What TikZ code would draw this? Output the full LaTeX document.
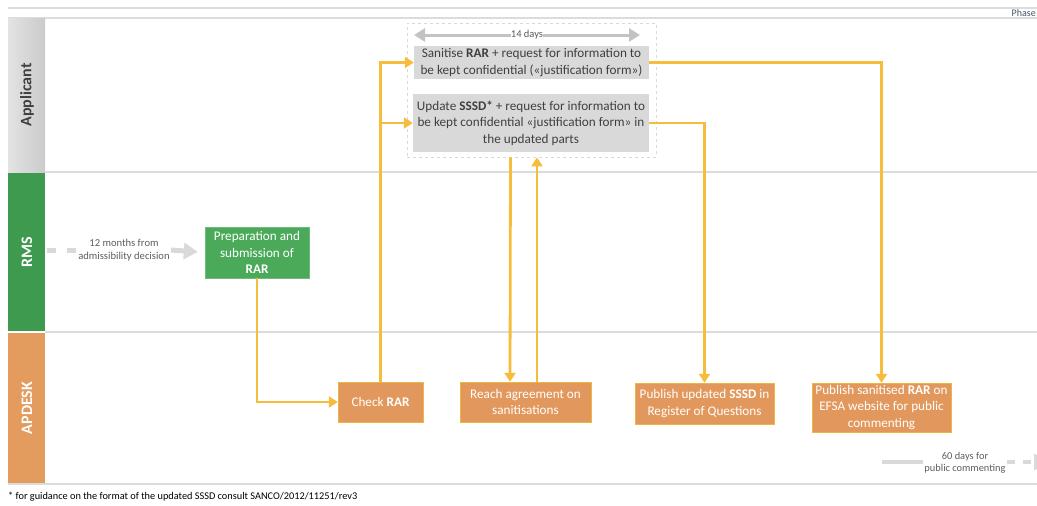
\documentclass[tikz,border=0pt]{standalone}
\usepackage{fontspec}
\setmainfont{Carlito}
\usetikzlibrary{arrows.meta,calc}
\definecolor{arrowc}{HTML}{F6BC3C}
\definecolor{boxgray}{HTML}{D9D9D9}
\definecolor{txtgray}{HTML}{404040}
\definecolor{lgray}{HTML}{DCDCDC}
\definecolor{rmsgreen}{HTML}{3D9A4E}
\definecolor{boxgreen}{HTML}{4BAA5A}
\definecolor{apdorange}{HTML}{E49B5E}
\definecolor{boxorange}{HTML}{E2985C}
\definecolor{phasec}{HTML}{44546A}
\tikzset{
  lanetxt/.style={rotate=90, font=\fontsize{16}{18}\selectfont\bfseries},
  sepline/.style={draw=lgray, line width=2pt},
  graybox/.style={fill=boxgray, draw=none, text=txtgray, align=center, inner sep=0pt,
    font=\fontsize{13.2}{16.5}\selectfont},
  greenbox/.style={fill=boxgreen, draw=boxgreen!80!white, text=white, align=center, inner sep=0pt,
    font=\fontsize{13.2}{16.5}\selectfont},
  orangebox/.style={fill=boxorange, draw=boxorange!70!yellow, text=white, align=center, inner sep=0pt,
    font=\fontsize{13.2}{16.5}\selectfont},
  flow/.style={draw=arrowc, line width=2.8pt, -{Triangle[width=11pt,length=9pt]}},
  timearrow/.style={draw=boxgray, line width=5pt},
  smalltxt/.style={text=txtgray!85!white, align=center, font=\fontsize{10.6}{12.5}\selectfont, inner sep=1pt},
}
\begin{document}
\begin{tikzpicture}[x=1pt,y=-1pt]
\useasboundingbox (0,0) rectangle (1037,506);
% header
\draw[draw=lgray, line width=1.5pt] (8,8) -- (1037,8);
\draw[draw=lgray, line width=1.5pt] (8,18) -- (1037,18);
\node[anchor=east, text=phasec, font=\fontsize{10}{11}\selectfont, inner sep=0pt] (phase) at (1036,13) {Phase};
% lane bars
\shade[left color=lgray!80!white, right color=lgray!92!black] (8,18) rectangle (45,172);
\fill[rmsgreen] (8,173) rectangle (45,331);
\fill[apdorange] (8,333) rectangle (45,484);
\node[lanetxt, text=txtgray] (lapp) at (27,95) {Applicant};
\node[lanetxt, text=white] (lrms) at (27,252) {RMS};
\node[lanetxt, text=white] (lapd) at (27,408) {APDESK};
% separators
\draw[sepline] (45,172) -- (1037,172);
\draw[sepline] (45,332) -- (1037,332);
\draw[sepline] (8,484) -- (1037,484);
% group box
\node[draw=boxgray, dashed, line width=0.8pt, minimum width=249pt, minimum height=134pt, inner sep=0pt] (grp) at (531.5,90) {};
% 14 days
\coordinate (d14a) at (414,35);
\coordinate (d14b) at (640,35);
\draw[draw=boxgray!90!black, line width=3pt, {Triangle[width=13pt,length=11pt]}-{Triangle[width=13pt,length=11pt]}] (d14a) -- (d14b);
\node[smalltxt, fill=white, font=\fontsize{10.5}{12}\selectfont, inner sep=0.3pt] (d14) at (527,35) {14 days};
% applicant boxes
\node[graybox, minimum width=235pt, minimum height=33pt] (san) at (531.5,62.5)
  {Sanitise \textbf{RAR} + request for information to\\be kept confidential («justification form»)};
\node[graybox, minimum width=236pt, minimum height=58pt] (upd) at (531,123)
  {Update \textbf{SSSD*} + request for information to\\be kept confidential «justification form» in\\the updated parts};
% RMS
\node[greenbox, minimum width=104pt, minimum height=51pt] (prep) at (257,252.5)
  {Preparation and\\submission of\\\textbf{RAR}};
\coordinate (m0) at (47,250);
\node[smalltxt] (mtxt) at (124,250) {12 months from\\admissibility decision};
\draw[timearrow, dash pattern=on 9pt off 11pt] (m0) -- (mtxt.west);
\draw[timearrow, -{Triangle[width=16pt,length=14pt]}, shorten >=7pt] (mtxt.east) -- (prep.west);
% APDESK
\node[orangebox, minimum width=85pt, minimum height=40pt] (check) at (380.5,402) {Check \textbf{RAR}};
\node[orangebox, minimum width=131pt, minimum height=40pt] (reach) at (525.5,402) {Reach agreement on\\sanitisations};
\node[orangebox, minimum width=139pt, minimum height=41pt] (pubs) at (704.5,403.5) {Publish updated \textbf{SSSD} in\\Register of Questions};
\node[orangebox, minimum width=139pt, minimum height=49pt] (pubr) at (881.5,407.5) {Publish sanitised \textbf{RAR} on\\EFSA website for public\\commenting};
% 60 days
\coordinate (s0) at (882,462);
\node[smalltxt, font=\fontsize{10.4}{12}\selectfont] (stxt) at (965,463) {60 days for\\public commenting};
\coordinate (s1) at (1048,462);
\draw[timearrow, line width=4pt] (s0) -- (stxt.west |- s0);
\draw[timearrow, line width=4pt, dash pattern=on 8pt off 8pt, -{Triangle[width=16pt,length=14pt]}] (stxt.east |- s0) -- (s1);
% flows
\draw[flow] (prep.south) |- (check.west);
\draw[flow] (check.north) |- (san.west);
\draw[flow] (check.north) |- (upd.west);
\draw[flow] ($(grp.south)+(-21,0)$) -- ($(reach.north)+(-15.5,0)$);
\draw[flow] ($(reach.north)+(11.5,0)$) -- ($(grp.south)+(5.5,0)$);
\draw[flow] (upd.east) -| (pubs.north);
\draw[flow] (san.east) -| (pubr.north);
% footnote
\node[anchor=west, inner sep=0pt, font=\fontsize{10.3}{12}\selectfont] (foot) at (8,497)
  {* for guidance on the format of the updated SSSD consult SANCO/2012/11251/rev3};
\end{tikzpicture}
\end{document}
